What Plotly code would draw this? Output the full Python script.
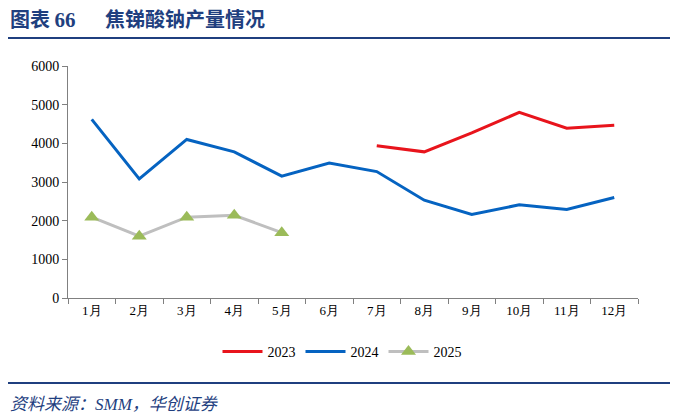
import plotly.graph_objects as go

months = ["1月", "2月", "3月", "4月", "5月", "6月", "7月", "8月", "9月", "10月", "11月", "12月"]
s2023 = [None, None, None, None, None, None, 3940, 3780, 4270, 4800, 4390, 4470]
s2024 = [4620, 3080, 4100, 3780, 3150, 3490, 3270, 2530, 2160, 2410, 2290, 2600]
s2025 = [2090, 1600, 2090, 2140, 1690, None, None, None, None, None, None, None]
yticks = [0, 1000, 2000, 3000, 4000, 5000, 6000]

W, H = 677, 418
L, R, T, B = 68, 39, 66, 120
pw, ph = W - L - R, H - T - B

def px(x):
    return (x - L) / pw

def py(y):
    return (H - B - y) / ph

serif = "Liberation Serif, Times New Roman, serif"
navy = "#1F3F7F"

fig = go.Figure()
fig.add_trace(go.Scatter(x=months, y=s2023, name="2023", mode="lines",
                         line=dict(color="#E8141C", width=3)))
fig.add_trace(go.Scatter(x=months, y=s2024, name="2024", mode="lines",
                         line=dict(color="#0563C1", width=3)))
fig.add_trace(go.Scatter(x=months, y=s2025, name="2025", mode="lines+markers",
                         line=dict(color="#BFBFBF", width=3),
                         marker=dict(symbol="triangle-up", size=13, color="#9BBB59")))

fig.update_layout(
    width=W, height=H,
    margin=dict(l=L, r=R, t=T, b=B),
    plot_bgcolor="white", paper_bgcolor="white",
    showlegend=True,
    legend=dict(orientation="h", x=px(342), xanchor="center", y=py(352), yanchor="middle",
                font=dict(family=serif, size=14, color="#000000"), itemwidth=40,
                tracegroupgap=0),
    xaxis=dict(type="category", showline=True, linecolor="#808080", linewidth=1,
               ticks="outside", tickson="boundaries", ticklen=5, tickcolor="#808080",
               showgrid=False, tickfont=dict(family=serif, size=13, color="#000000"),
               range=[-0.5, 11.5], fixedrange=True),
    yaxis=dict(range=[0, 6000], tickvals=yticks, showline=True, linecolor="#808080",
               linewidth=1, ticks="outside", ticklen=5, tickcolor="#808080",
               showgrid=False, zeroline=False,
               tickfont=dict(family=serif, size=14, color="#000000")),
    shapes=[
        dict(type="line", xref="paper", yref="paper", x0=px(8), x1=px(670),
             y0=py(38), y1=py(38), line=dict(color=navy, width=2)),
        dict(type="line", xref="paper", yref="paper", x0=px(8), x1=px(670),
             y0=py(383), y1=py(383), line=dict(color=navy, width=2)),
    ],
    annotations=[
        dict(text="<b>图表 </b><b><span style='font-family:Liberation Serif;font-size:21px'>66</span></b>",
             xref="paper", yref="paper",
             x=px(8), y=py(18), xanchor="left", yanchor="middle", showarrow=False,
             font=dict(family="Noto Sans CJK SC, sans-serif", size=20, color=navy)),
        dict(text="<b>焦锑酸钠产量情况</b>", xref="paper", yref="paper",
             x=px(103), y=py(18), xanchor="left", yanchor="middle", showarrow=False,
             font=dict(family="Noto Sans CJK SC, sans-serif", size=20, color=navy)),
        dict(text="<i>资料来源：SMM，华创证券</i>", xref="paper", yref="paper",
             x=px(8), y=py(404), xanchor="left", yanchor="middle", showarrow=False,
             font=dict(family="Liberation Serif, Noto Sans CJK SC, serif", size=17, color=navy)),
    ],
)

fig.write_html("out.html")
